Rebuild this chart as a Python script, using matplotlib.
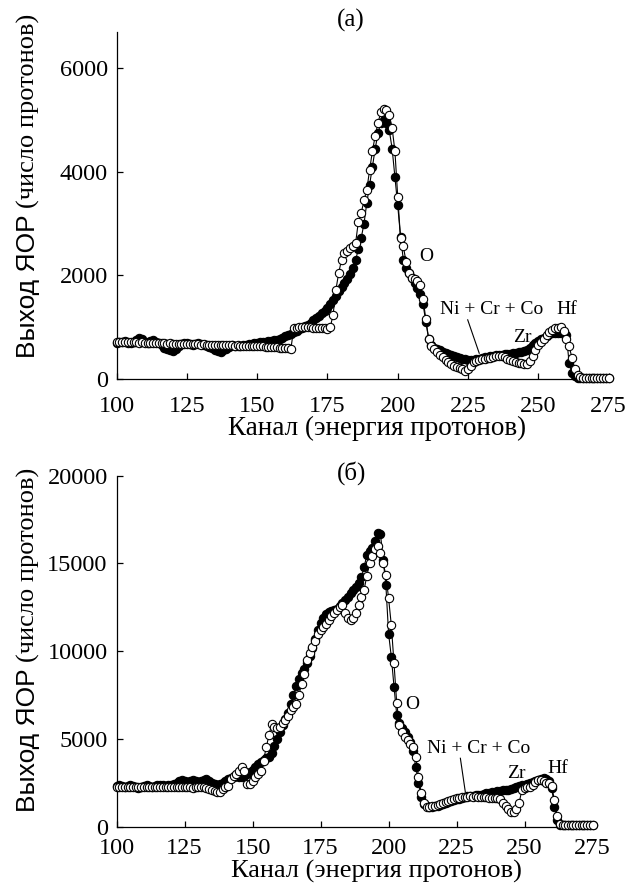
import matplotlib
matplotlib.use('Agg')
import matplotlib.pyplot as plt

channels = list(range(100, 276))

top_filled = [
    700, 720, 710, 730, 700, 690, 720, 760, 800, 770,
    720, 700, 740, 760, 720, 690, 660, 600, 570, 550,
    540, 580, 640, 680, 700, 690, 670, 660, 680, 700,
    680, 650, 640, 620, 590, 560, 540, 530, 550, 580,
    620, 650, 640, 630, 640, 650, 660, 670, 680, 690,
    700, 705, 710, 720, 730, 740, 750, 760, 780, 800,
    830, 850, 870, 900, 930, 960, 990, 1020, 1050, 1090,
    1130, 1170, 1220, 1270, 1320, 1380, 1450, 1530, 1610, 1690,
    1770, 1850, 1930, 2020, 2140, 2300, 2500, 2720, 3000, 3400,
    3750, 4100, 4450, 4750, 4950, 5000, 4950, 4800, 4450, 3900,
    3350, 2750, 2300, 2150, 2050, 1950, 1850, 1750, 1650, 1450,
    1100, 780, 660, 600, 570, 550, 520, 500, 480, 460,
    440, 420, 405, 395, 385, 375, 370, 367, 380, 395,
    410, 420, 431, 440, 450, 455, 460, 465, 475, 480,
    490, 496, 505, 515, 530, 545, 560, 600, 650, 700,
    740, 770, 800, 830, 860, 880, 890, 890, 885, 880,
    850, 300, 120, 50, 20, 15, 15, 15, 15, 15,
    15, 15, 15, 15, 15, 15,
]

top_open = [
    720, 715, 720, 710, 715, 710, 705, 710, 700, 705,
    700, 700, 695, 700, 690, 695, 690, 690, 685, 690,
    680, 685, 680, 680, 675, 680, 670, 675, 670, 670,
    665, 670, 660, 665, 660, 660, 655, 660, 650, 655,
    650, 650, 645, 650, 640, 645, 640, 640, 635, 640,
    630, 635, 630, 625, 620, 620, 615, 610, 605, 600,
    595, 590, 585, 980, 990, 1000, 1000, 1000, 1000, 995,
    990, 990, 985, 980, 975, 965, 1000, 1240, 1720, 2050,
    2300, 2430, 2480, 2520, 2560, 2620, 3040, 3200, 3450, 3650,
    4040, 4400, 4700, 4950, 5150, 5210, 5200, 5100, 4850, 4400,
    3520, 2720, 2560, 2250, 2050, 1950, 1940, 1900, 1820, 1545,
    1160, 773, 640, 580, 520, 470, 420, 370, 330, 290,
    260, 240, 220, 200, 160, 200, 260, 320, 350, 370,
    380, 390, 400, 410, 420, 440, 450, 440, 420, 390,
    370, 350, 330, 310, 300, 290, 290, 350, 450, 560,
    650, 720, 780, 840, 900, 950, 980, 990, 1000, 920,
    770, 640, 400, 200, 80, 30, 25, 20, 20, 20,
    20, 20, 20, 20, 20, 20,
]

bot_filled = [
    2300, 2350, 2300, 2250, 2300, 2350, 2300, 2250, 2200, 2250,
    2300, 2350, 2300, 2250, 2300, 2350, 2400, 2350, 2300, 2350,
    2400, 2450, 2500, 2600, 2650, 2600, 2550, 2600, 2650, 2600,
    2550, 2600, 2650, 2700, 2600, 2500, 2450, 2400, 2450, 2500,
    2600, 2700, 2800, 2850, 2900, 2850, 2810, 2900, 3010, 3100,
    3250, 3390, 3550, 3700, 3800, 3900, 3960, 4200, 4620, 5000,
    5400, 5800, 6150, 6500, 7000, 7500, 8000, 8430, 8750, 9000,
    9300, 9700, 10200, 10700, 11200, 11600, 11900, 12100, 12240, 12300,
    12340, 12400, 12550, 12720, 12900, 13100, 13300, 13480, 13650, 13860,
    14200, 14800, 15470, 15700, 15900, 16300, 16710, 16700, 15200, 13770,
    11000, 9680, 7970, 6360, 5900, 5600, 5400, 5100, 4800, 4300,
    3400, 2500, 1700, 1300, 1150, 1100, 1100, 1150, 1200, 1250,
    1300, 1350, 1400, 1450, 1500, 1550, 1600, 1650, 1700, 1720,
    1740, 1760, 1780, 1800, 1830, 1860, 1890, 1920, 1950, 1980,
    2010, 2040, 2070, 2090, 2100, 2150, 2200, 2250, 2300, 2350,
    2400, 2450, 2500, 2550, 2600, 2650, 2700, 2750, 2700, 2600,
    2200, 1140, 400, 100, 80, 80, 80, 80, 80, 80,
    80, 80, 80, 80, 80, 80,
]

bot_open = [
    2250, 2260, 2240, 2250, 2270, 2250, 2240, 2250, 2260, 2250,
    2240, 2250, 2260, 2250, 2240, 2250, 2260, 2250, 2240, 2260,
    2250, 2240, 2250, 2260, 2250, 2240, 2250, 2250, 2230, 2240,
    2250, 2260, 2240, 2200, 2150, 2100, 2050, 1960, 2000, 2150,
    2250, 2340, 2700, 2900, 3010, 3200, 3390, 3200, 2440, 2450,
    2600, 2820, 3000, 3200, 3770, 4530, 5200, 5860, 5700, 5600,
    5670, 5900, 6050, 6300, 6620, 6800, 7000, 7480, 8150, 8700,
    9480, 9900, 10240, 10600, 11000, 11200, 11390, 11570, 11770, 12000,
    12200, 12350, 12500, 12640, 12200, 11870, 11800, 11870, 12150, 12630,
    13100, 13500, 14300, 15000, 15400, 15800, 16000, 15570, 15000, 14350,
    13010, 11490, 9300, 7020, 5800, 5400, 5100, 4950, 4700, 4560,
    3990, 2850, 1900, 1330, 1140, 1100, 1150, 1200, 1240, 1300,
    1350, 1420, 1480, 1520, 1580, 1620, 1660, 1700, 1710, 1710,
    1720, 1710, 1720, 1710, 1700, 1700, 1680, 1660, 1650, 1630,
    1620, 1550, 1350, 1150, 1000, 850, 810, 1000, 1330, 2090,
    2200, 2250, 2280, 2400, 2550, 2650, 2660, 2600, 2500, 2470,
    2300, 1500, 600, 150, 100, 100, 100, 100, 100, 100,
    100, 100, 100, 100, 100, 100,
]

x_ticks = [100, 125, 150, 175, 200, 225, 250, 275]
top_yticks = [0, 2000, 4000, 6000]
bot_yticks = [0, 5000, 10000, 15000, 20000]

panel_titles = ['(а)', '(б)']
xlabel_text = 'Канал (энергия протонов)'
ylabel_sans = 'Выход ЯОР'
ylabel_serif = '(число протонов)'
element_labels = ['O', 'Ni + Cr + Co', 'Zr', 'Hf']

for arr in (top_filled, top_open, bot_filled, bot_open):
    assert len(arr) == len(channels), len(arr)

SERIF = ['Liberation Serif', 'DejaVu Serif']
SANS = ['Liberation Sans', 'DejaVu Sans']
plt.rcParams['font.family'] = SERIF

fig = plt.figure(figsize=(6.27, 8.83), dpi=100)
ax1 = fig.add_axes([0.1861, 0.5708, 0.7844, 0.3930])
ax2 = fig.add_axes([0.1861, 0.0638, 0.7589, 0.3975])


def style(ax, ymax, yticks, xpad):
    ax.set_xlim(100, 275)
    ax.set_ylim(0, ymax)
    for s in ['top', 'right']:
        ax.spines[s].set_visible(False)
    for s in ['left', 'bottom']:
        ax.spines[s].set_linewidth(0.9)
    ax.set_xticks(x_ticks)
    ax.set_yticks(yticks)
    ax.tick_params(direction='in', length=4.5, width=0.9, labelsize=17.5)
    ax.tick_params(axis='x', pad=xpad)
    ax.tick_params(axis='y', pad=6.5)


def draw_series(ax, filled, opened):
    ax.plot(channels, filled, '-', color='black', lw=0.8, marker='o', ms=6,
            mfc='black', mec='black', mew=0.8, clip_on=False, zorder=3)
    ax.plot(channels, opened, '-', color='black', lw=0.8, marker='o', ms=6,
            mfc='white', mec='black', mew=0.8, clip_on=False, zorder=4)


style(ax1, 6700, top_yticks, 12)
style(ax2, 20000, bot_yticks, 8)
draw_series(ax1, top_filled, top_open)
draw_series(ax2, bot_filled, bot_open)

# element annotations
ann_fs = 14
ax1.text(210.3, 2367, element_labels[0], ha='center', va='center', fontsize=ann_fs)
ax1.text(233.4, 1335, element_labels[1], ha='center', va='center', fontsize=ann_fs)
ax1.text(244.4, 793, element_labels[2], ha='center', va='center', fontsize=ann_fs)
ax1.text(260.1, 1335, element_labels[3], ha='center', va='center', fontsize=ann_fs)
ax1.plot([224.9, 229.0], [1142, 497], color='black', lw=0.8, zorder=5)

ax2.text(208.6, 6937, element_labels[0], ha='center', va='center', fontsize=ann_fs)
ax2.text(233.1, 4469, element_labels[1], ha='center', va='center', fontsize=ann_fs)
ax2.text(247.0, 3004, element_labels[2], ha='center', va='center', fontsize=ann_fs)
ax2.text(262.2, 3329, element_labels[3], ha='center', va='center', fontsize=ann_fs)
ax2.plot([226.4, 228.2], [3899, 1995], color='black', lw=0.8, zorder=5)

# titles
fig.text(0.560, 1 - 20 / 883, panel_titles[0], ha='center', va='center', fontsize=18)
fig.text(0.561, 1 - 473 / 883, panel_titles[1], ha='center', va='center', fontsize=18)

# x labels
fig.text(0.601, 1 - 435 / 883, xlabel_text, ha='center', va='baseline', fontsize=19.5)
fig.text(0.601, 1 - 877.5 / 883, xlabel_text, ha='center', va='baseline', fontsize=19)

# y labels (mixed fonts)
fig.canvas.draw()
renderer = fig.canvas.get_renderer()
H = fig.bbox.height


def ylabel(base_x, center_y):
    t1 = fig.text(base_x, 0, ylabel_sans, rotation=90, rotation_mode='anchor',
                  ha='left', va='baseline', fontsize=19, family=SANS)
    t2 = fig.text(base_x, 0, ylabel_serif, rotation=90, rotation_mode='anchor',
                  ha='left', va='baseline', fontsize=19, family=SERIF)
    h1 = t1.get_window_extent(renderer).height / H
    h2 = t2.get_window_extent(renderer).height / H
    gap = 7 / H
    y0 = center_y - (h1 + gap + h2) / 2
    t1.set_y(y0)
    t2.set_y(y0 + h1 + gap)


ylabel(35 / 627, 1 - 186 / 883)
ylabel(35 / 627, 1 - 640 / 883)

fig.savefig('out.png', dpi=100)
